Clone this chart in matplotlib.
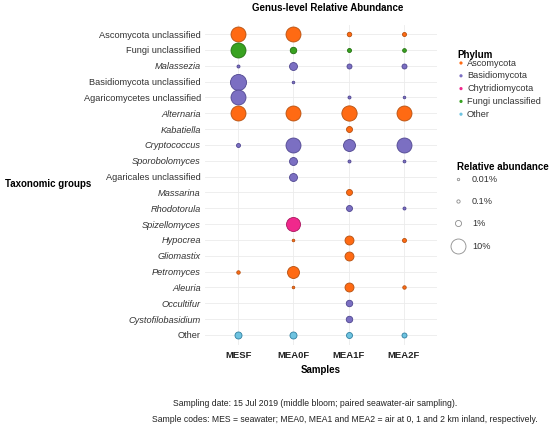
import numpy as np
import matplotlib
matplotlib.use('Agg')
import matplotlib.pyplot as plt

plt.rcParams['font.family'] = ['Liberation Sans', 'DejaVu Sans']

# ---- data (relative abundance, %) ----
samples = ['MESF', 'MEA0F', 'MEA1F', 'MEA2F']
taxa = ['Ascomycota unclassified', 'Fungi unclassified', 'Malassezia',
        'Basidiomycota unclassified', 'Agaricomycetes unclassified', 'Alternaria',
        'Kabatiella', 'Cryptococcus', 'Sporobolomyces', 'Agaricales unclassified',
        'Massarina', 'Rhodotorula', 'Spizellomyces', 'Hypocrea', 'Gliomastix',
        'Petromyces', 'Aleuria', 'Occultifur', 'Cystofilobasidium', 'Other']
italic_taxa = ['Malassezia', 'Alternaria', 'Kabatiella', 'Cryptococcus', 'Sporobolomyces',
               'Massarina', 'Rhodotorula', 'Spizellomyces', 'Hypocrea', 'Gliomastix',
               'Petromyces', 'Aleuria', 'Occultifur', 'Cystofilobasidium']
taxon_phylum = ['Ascomycota', 'Fungi unclassified', 'Basidiomycota',
                'Basidiomycota', 'Basidiomycota', 'Ascomycota',
                'Ascomycota', 'Basidiomycota', 'Basidiomycota', 'Basidiomycota',
                'Ascomycota', 'Basidiomycota', 'Chytridiomycota', 'Ascomycota', 'Ascomycota',
                'Ascomycota', 'Ascomycota', 'Basidiomycota', 'Basidiomycota', 'Other']
# rows follow taxa, columns follow samples; nan = absent
abundance = np.array([
    [10.0, 10.0, 0.37, 0.24],
    [10.0, 1.2, 0.24, 0.18],
    [0.06, 2.1, 0.54, 0.54],
    [11.7, 0.02, np.nan, np.nan],
    [10.0, np.nan, 0.06, 0.02],
    [10.0, 10.0, 10.5, 10.0],
    [np.nan, np.nan, 0.95, np.nan],
    [0.24, 10.0, 5.9, 10.0],
    [np.nan, 2.1, 0.06, 0.04],
    [np.nan, 2.1, np.nan, np.nan],
    [np.nan, np.nan, 0.95, np.nan],
    [np.nan, np.nan, 0.95, 0.06],
    [np.nan, 8.6, np.nan, np.nan],
    [np.nan, 0.02, 2.9, 0.24],
    [np.nan, np.nan, 2.9, np.nan],
    [0.13, 5.9, np.nan, np.nan],
    [np.nan, 0.02, 2.9, 0.13],
    [np.nan, np.nan, 1.2, np.nan],
    [np.nan, np.nan, 1.2, np.nan],
    [1.5, 1.5, 0.95, 0.54],
])
phyla = ['Ascomycota', 'Basidiomycota', 'Chytridiomycota', 'Fungi unclassified', 'Other']
size_breaks = [0.01, 0.1, 1, 10]
size_labels = ['0.01%', '0.1%', '1%', '10%']

fill = {'Ascomycota': '#FF6A13', 'Basidiomycota': '#7B6FC2', 'Chytridiomycota': '#F0288C',
        'Fungi unclassified': '#38A220', 'Other': '#6EC3E0'}
edge = {'Ascomycota': '#B5500F', 'Basidiomycota': '#4F4690', 'Chytridiomycota': '#A8185F',
        'Fungi unclassified': '#22700F', 'Other': '#2F7FA0'}

DPI = 100
W, H = 550, 428


def marker_area(pct):
    # diameter in pixels grows with sqrt of abundance
    d_px = 2 + 41 * np.sqrt(np.asarray(pct) / 100.0)
    return (d_px * 72.0 / DPI) ** 2


fig = plt.figure(figsize=(W / DPI, H / DPI), dpi=DPI)
ax = fig.add_axes([205 / W, 1 - 344.5 / H, (437 - 205) / W, (344.5 - 24.5) / H])

nT = len(taxa)
for i, tax in enumerate(taxa):
    ph = taxon_phylum[i]
    for j in range(len(samples)):
        v = abundance[i, j]
        if np.isnan(v):
            continue
        ax.scatter(j, nT - 1 - i, s=marker_area(v), c=fill[ph], edgecolors=edge[ph],
                   linewidths=0.6, zorder=3)

ax.set_xlim(-0.6, len(samples) - 1 + 0.6)
ax.set_ylim(-0.6, nT - 1 + 0.6)
ax.set_xticks(range(len(samples)))
ax.set_xticklabels(samples, fontsize=6.8, fontweight='bold', color='#222222')
ax.set_yticks(range(nT))
ax.set_yticklabels(taxa[::-1], fontsize=6.7, color='#333333')
for lab in ax.get_yticklabels():
    if lab.get_text() in italic_taxa:
        lab.set_fontstyle('italic')
ax.tick_params(length=0)
ax.tick_params(axis='y', pad=3)
ax.tick_params(axis='x', pad=5)
ax.grid(True, color='#EBEBEB', linewidth=0.6, zorder=0)
ax.set_axisbelow(True)
for sp in ax.spines.values():
    sp.set_visible(False)

ax.set_xlabel('Samples', fontsize=7, fontweight='bold', labelpad=3)
fig.text(328 / W, 1 - 8 / H, 'Genus-level Relative Abundance', fontsize=7, fontweight='bold',
         ha='center', va='center')
fig.text(5 / W, 1 - 184 / H, 'Taxonomic groups', fontsize=7, fontweight='bold',
         ha='left', va='center')

# ---- legends drawn in pixel coordinates ----
lax = fig.add_axes([0, 0, 1, 1])
lax.set_xlim(0, W)
lax.set_ylim(H, 0)
lax.axis('off')

lax.text(457, 55, 'Phylum', fontsize=7, fontweight='bold', ha='left', va='center')
for k, ph in enumerate(phyla):
    yy = 63 + k * 12.8
    lax.scatter(461, yy, s=(3.2 * 0.72) ** 2, c=fill[ph], edgecolors='none')
    lax.text(467, yy, ph, fontsize=6.6, color='#333333', ha='left', va='center')

lax.text(457, 167, 'Relative abundance', fontsize=7, fontweight='bold', ha='left', va='center')
for yy, b, lab in zip([179, 201, 223, 246], size_breaks, size_labels):
    lax.scatter(458, yy, s=marker_area(b), facecolors='white', edgecolors='#8C8C8C',
                linewidths=0.6)
    lax.text(472, yy, lab, fontsize=6.6, color='#333333', ha='left', va='center')

# ---- caption ----
lax.text(173, 404, 'Sampling date: 15 Jul 2019 (middle bloom; paired seawater-air sampling).',
         fontsize=6.2, color='#222222', ha='left', va='center')
lax.text(538, 420, 'Sample codes: MES = seawater; MEA0, MEA1 and MEA2 = air at 0, 1 and 2 km inland, respectively.',
         fontsize=6.2, color='#222222', ha='right', va='center')

fig.savefig('out.png', dpi=DPI)
